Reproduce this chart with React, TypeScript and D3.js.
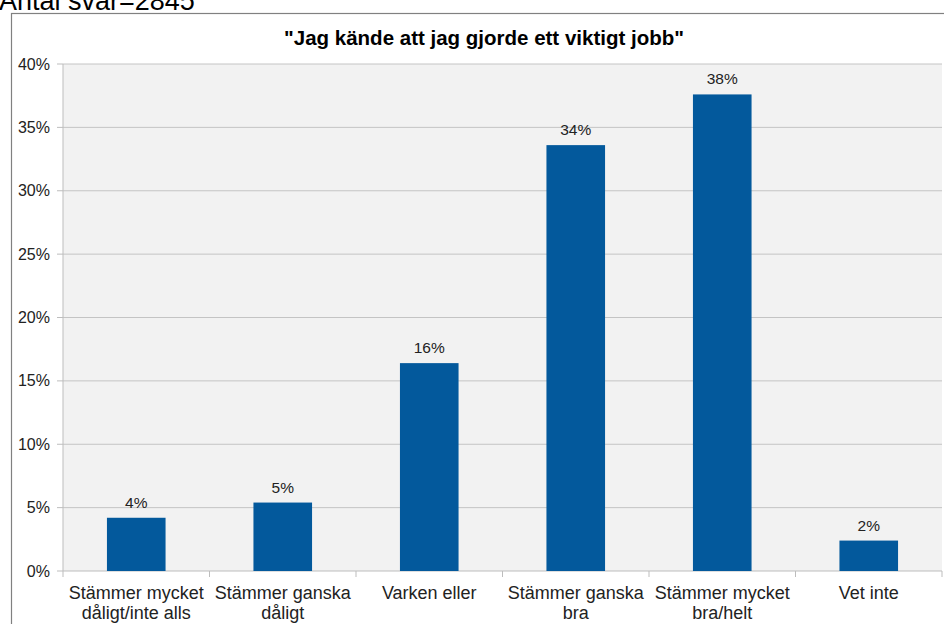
import * as d3 from "d3";
import React from "react";

const categories = [
  ["Stämmer mycket", "dåligt/inte alls"],
  ["Stämmer ganska", "dåligt"],
  ["Varken eller"],
  ["Stämmer ganska", "bra"],
  ["Stämmer mycket", "bra/helt"],
  ["Vet inte"],
];
const values = [4.2, 5.4, 16.4, 33.6, 37.6, 2.4];
const labels = ["4%", "5%", "16%", "34%", "38%", "2%"];
const yTicks = [0, 5, 10, 15, 20, 25, 30, 35, 40];

const W = 944;
const H = 624;
const font = "'Liberation Sans', Arial, sans-serif";

const App: React.FC = () => {
  const left = 63;
  const right = 942;
  const top = 64;
  const bottom = 571;

  const x = d3
    .scaleBand<number>()
    .domain(d3.range(categories.length))
    .range([left, right])
    .paddingInner(0.6)
    .paddingOuter(0.3);
  const xb = d3.scaleBand<number>().domain(d3.range(categories.length)).range([left, right]);
  const y = d3.scaleLinear().domain([0, 40]).range([bottom, top]);

  return (
    <svg
      width={W}
      height={H}
      style={{ position: "absolute", left: 0, top: 0, fontFamily: font }}
    >
      <rect x={0} y={0} width={W} height={H} fill="#fff" />
      <text x={-1} y={10} fontSize={27} fill="#000">
        Antal svar=2845
      </text>
      <rect x={11.5} y={13.5} width={W} height={H} fill="none" stroke="#808080" strokeWidth={1.2} />
      <text x={484} y={45} textAnchor="middle" fontSize={20.5} fontWeight="bold" fill="#000">
        "Jag kände att jag gjorde ett viktigt jobb"
      </text>

      <rect x={left} y={top} width={right - left} height={bottom - top} fill="#f2f2f2" />
      {yTicks.map((t) => (
        <g key={t}>
          {t > 0 && (
            <line x1={left} x2={right} y1={y(t)} y2={y(t)} stroke="#c4c4c4" strokeWidth={1} />
          )}
          <line x1={left - 6} x2={left} y1={y(t)} y2={y(t)} stroke="#bdbdbd" />
          <text
            x={left - 13}
            y={y(t)}
            dy="0.35em"
            textAnchor="end"
            fontSize={16}
            fill="#222"
          >
            {t}%
          </text>
        </g>
      ))}
      <line x1={left} x2={left} y1={top} y2={bottom} stroke="#bdbdbd" />
      <line x1={left} x2={right} y1={bottom} y2={bottom} stroke="#bdbdbd" />
      {d3.range(categories.length + 1).map((i) => {
        const tx = i < categories.length ? xb(i)! : right;
        return <line key={i} x1={tx} x2={tx} y1={bottom} y2={bottom + 6} stroke="#bdbdbd" />;
      })}

      {values.map((v, i) => (
        <g key={i}>
          <rect
            x={x(i)!}
            y={y(v)}
            width={x.bandwidth()}
            height={bottom - y(v)}
            fill="#03599c"
          />
          <text
            x={x(i)! + x.bandwidth() / 2}
            y={y(v) - 10}
            textAnchor="middle"
            fontSize={15.5}
            fill="#222"
          >
            {labels[i]}
          </text>
        </g>
      ))}

      {categories.map((lines, i) => (
        <text
          key={i}
          x={xb(i)! + xb.bandwidth() / 2}
          y={599}
          textAnchor="middle"
          fontSize={18}
          fill="#222"
        >
          {lines.map((l, j) => (
            <tspan key={j} x={xb(i)! + xb.bandwidth() / 2} dy={j === 0 ? 0 : 20}>
              {l}
            </tspan>
          ))}
        </text>
      ))}
    </svg>
  );
};

export default App;
